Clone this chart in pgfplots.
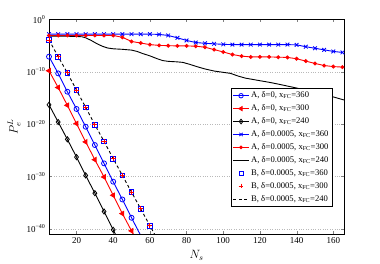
\documentclass[border=0pt]{standalone}
\usepackage{fontspec}
\setmainfont{Liberation Serif}
\usepackage{pgfplots}
\pgfplotsset{compat=1.18}
\definecolor{mblue}{RGB}{0,0,255}
\definecolor{mred}{RGB}{255,0,0}
\begin{document}
\begin{tikzpicture}
\path[use as bounding box] (0,0) rectangle (380pt,264pt);
\begin{axis}[
  at={(49pt,30pt)}, anchor=south west,
  scale only axis, width=295.3pt, height=214.5pt,
  xmin=5, xmax=166, ymin=-41, ymax=0,
  xtick={20,40,...,160},
  ytick={0,-10,-20,-30,-40},
  yticklabels={10\textsuperscript{0},10\textsuperscript{\textminus10},10\textsuperscript{\textminus20},10\textsuperscript{\textminus30},10\textsuperscript{\textminus40}},
  ymajorgrids, grid style={dotted, gray!55, line width=0.5pt},
  tick align=inside, major tick length=3pt,
  tick label style={font=\fontsize{9}{10}\selectfont},
  xticklabel style={/pgf/number format/assume math mode=true},
  xlabel={$N_s$}, ylabel={$P_e^{L}$},
  xlabel style={at={(axis description cs:0.5,-0.1)}, anchor=center, font=\fontsize{11.5}{12}\selectfont},
  ylabel style={at={(axis description cs:-0.118,0.5)}, anchor=center, font=\fontsize{11.5}{12}\selectfont},
  axis line style={line width=0.5pt},
  every axis plot/.append style={line width=0.9pt},
  legend style={at={(0.9607,0.682)}, anchor=north east, draw=black, fill=white,
     font=\fontsize{8.6}{9.5}\selectfont, row sep=1.4pt, inner sep=2pt, line width=0.5pt},
  legend image post style={scale=0.9},
  legend cell align=left,
]
% A, delta=0, 360
\addplot[mblue, mark=o, mark size=2.5pt, mark options={solid, line width=0.8pt}] coordinates {
(5,-7.1)(10,-10.3)(15,-13.8)(20,-17.1)(25,-20.5)(30,-24.0)(35,-27.5)(40,-31.0)(45,-34.4)(50,-37.9)(55,-41.3)};
\addlegendentry{A, δ=0, x\textsubscript{FC}=360}
% A, delta=0, 300
\addplot[mred, mark=triangle*, mark size=2.6pt, mark options={solid, rotate=90}] coordinates {
(5,-9.8)(10,-13.0)(15,-16.4)(20,-19.9)(25,-23.4)(30,-26.8)(35,-30.1)(40,-33.6)(45,-37.1)(50,-40.4)(55,-43.8)};
\addlegendentry{A, δ=0, x\textsubscript{FC}=300}
% A, delta=0, 240
\addplot[black, mark=diamond, mark size=2.6pt, mark options={solid, line width=0.8pt}] coordinates {
(5,-16.3)(10,-19.6)(15,-22.9)(20,-26.3)(25,-29.8)(30,-33.2)(35,-36.7)(40,-40.2)(45,-43.6)};
\addlegendentry{A, δ=0, x\textsubscript{FC}=240}
% A, delta=0.0005, 360
\addplot[mblue, mark=x, mark size=2.6pt, mark options={solid, line width=0.8pt}] coordinates {
(5,-2.8)(10,-2.8)(15,-2.8)(20,-2.8)(25,-2.8)(30,-2.8)(35,-2.8)(40,-2.8)(45,-2.8)(50,-2.8)(55,-2.8)(60,-2.8)(65,-2.85)
(70,-3.05)(75,-3.5)(80,-4.0)(85,-4.4)(90,-4.55)(95,-4.65)(100,-4.75)(105,-4.8)(110,-4.8)(115,-4.8)(120,-4.8)
(125,-4.8)(130,-4.8)(135,-4.8)(140,-4.85)(145,-5.2)(150,-5.5)(155,-5.8)(160,-6.1)(165,-6.3)};
\addlegendentry{A, δ=0.0005, x\textsubscript{FC}=360}
% A, delta=0.0005, 300
\addplot[mred, mark=*, mark size=1.5pt, mark options={solid}] coordinates {
(5,-3.05)(10,-3.05)(15,-3.05)(20,-3.05)(25,-3.05)(30,-3.05)(35,-3.05)(40,-3.05)(45,-3.4)(50,-4.2)(55,-4.5)
(60,-4.8)(65,-4.95)(70,-5.0)(75,-5.05)(80,-5.05)(85,-5.1)(90,-5.3)(95,-5.75)(100,-6.2)(105,-6.7)(110,-7.0)
(115,-7.15)(120,-7.15)(125,-7.15)(130,-7.2)(135,-7.25)(140,-7.5)(145,-7.95)(150,-8.4)(155,-8.8)(160,-9.0)(165,-9.1)};
\addlegendentry{A, δ=0.0005, x\textsubscript{FC}=300}
% A, delta=0.0005, 240
\addplot[black] coordinates {
(5,-3.2)(10,-3.2)(15,-3.2)(20,-3.25)(23,-3.3)(25,-3.5)(28,-4.0)(31,-4.6)(34,-5.1)(37,-5.45)(40,-5.6)(45,-5.7)
(50,-5.85)(53,-6.1)(56,-6.5)(60,-6.95)(64,-7.5)(67,-7.85)(70,-8.0)(75,-8.1)(78,-8.2)(82,-8.6)(86,-9.05)
(90,-9.45)(95,-9.85)(100,-10.1)(104,-10.3)(108,-10.8)(112,-11.2)(116,-11.45)(120,-11.7)(125,-12.0)(130,-12.35)
(140,-13.1)(150,-13.9)(160,-14.8)(166,-15.4)};
\addlegendentry{A, δ=0.0005, x\textsubscript{FC}=240}
% B, 360 squares
\addplot[mblue, only marks, mark=square, mark size=2.3pt, mark options={solid, line width=0.8pt}] coordinates {
(5,-3.9)(10,-7.1)(15,-10.2)(20,-13.5)(25,-16.8)(30,-20.1)(35,-23.3)(40,-26.6)(45,-29.8)(50,-33.0)(55,-36.2)(60,-39.4)};
\addlegendentry{B, δ=0.0005, x\textsubscript{FC}=360}
% B, 300 plus
\addplot[mred, only marks, mark=+, mark size=2.6pt, mark options={solid, line width=0.8pt}] coordinates {
(5,-3.9)(10,-7.1)(15,-10.2)(20,-13.5)(25,-16.8)(30,-20.1)(35,-23.3)(40,-26.6)(45,-29.8)(50,-33.0)(55,-36.2)(60,-39.4)};
\addlegendentry{B, δ=0.0005, x\textsubscript{FC}=300}
% B, 240 dashed
\addplot[black, dashed, dash pattern=on 3pt off 2.5pt] coordinates {
(5,-3.9)(10,-7.1)(15,-10.2)(20,-13.5)(25,-16.8)(30,-20.1)(35,-23.3)(40,-26.6)(45,-29.8)(50,-33.0)(55,-36.2)(60,-39.4)(65,-42.6)};
\addlegendentry{B, δ=0.0005, x\textsubscript{FC}=240}
\end{axis}
\end{tikzpicture}
\end{document}
